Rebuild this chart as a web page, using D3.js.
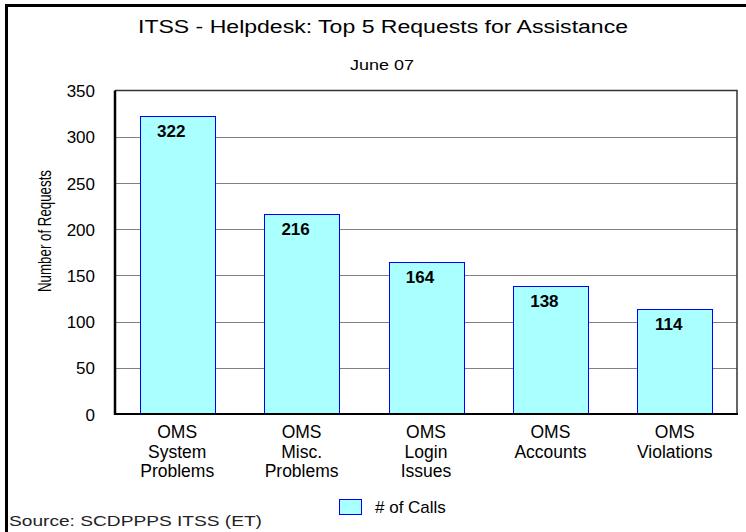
<!DOCTYPE html>
<html>
<head>
<meta charset="utf-8">
<script src="https://cdn.jsdelivr.net/npm/d3@7"></script>
<style>
html,body{margin:0;padding:0;background:#fff;}
svg{display:block;font-family:Arial,"Liberation Sans",sans-serif;}
</style>
</head>
<body>
<svg id="chart" width="746" height="532"></svg>
<script>
const categories = [["OMS","System","Problems"],["OMS","Misc.","Problems"],["OMS","Login","Issues"],["OMS","Accounts"],["OMS","Violations"]];
const calls = [322, 216, 164, 138, 114];
const yTicks = [0, 50, 100, 150, 200, 250, 300, 350];
const titleText = "ITSS - Helpdesk: Top 5 Requests for Assistance";
const subtitleText = "June 07";
const yTitle = "Number of Requests";
const seriesName = "# of Calls";
const sourceText = "Source: SCDPPPS ITSS (ET)";

const svg = d3.select("#chart");
const W = 746, H = 532;
const m = {left:115, right:737, top:90.5, bottom:414};

// outer frame (left and top edges)
svg.append("path").attr("d", `M6.5,${H} L6.5,5.5 L${W},5.5`).attr("fill","none").attr("stroke","#000").attr("stroke-width",3);

const x = d3.scaleBand().domain(d3.range(calls.length)).range([m.left, m.right]).paddingInner(0.4).paddingOuter(0.2);
const y = d3.scaleLinear().domain([0,350]).range([m.bottom, m.top]);

// gridlines
svg.append("g").selectAll("line").data(yTicks.filter(t=>t>0 && t<350)).join("line")
  .attr("x1", m.left).attr("x2", m.right)
  .attr("y1", d=>Math.round(y(d))+0.5).attr("y2", d=>Math.round(y(d))+0.5)
  .attr("stroke","#808080").attr("stroke-width",1);

// plot frame top & right
svg.append("path").attr("d", `M${m.left},${m.top} L${m.right},${m.top} L${m.right},${m.bottom}`)
  .attr("fill","none").attr("stroke","#333").attr("stroke-width",1.5);

// bars
svg.append("g").selectAll("rect").data(calls).join("rect")
  .attr("x", (d,i)=>Math.round(x(i))+0.5)
  .attr("y", d=>Math.round(y(d))+0.5)
  .attr("width", Math.round(x.bandwidth()))
  .attr("height", d=>m.bottom - Math.round(y(d)) - 0.5)
  .attr("fill","#aaffff").attr("stroke","#0000ff").attr("stroke-width",1);

// value labels
svg.append("g").selectAll("text").data(calls).join("text")
  .attr("x", (d,i)=>x(i)+x.bandwidth()/2 - 6)
  .attr("y", d=>y(d)+21)
  .attr("text-anchor","middle").attr("font-weight","bold").attr("font-size",17)
  .text(d=>d);

// y axis
const yAxis = d3.axisLeft(y).tickValues(yTicks).tickSize(0).tickPadding(20);
const ga = svg.append("g").attr("transform",`translate(${m.left},0)`).call(yAxis);
ga.select(".domain").remove();
ga.selectAll("text").attr("font-size",17).attr("font-family","Arial, 'Liberation Sans', sans-serif").attr("fill","#000").attr("dy","0.36em");

// axis lines
svg.append("line").attr("x1",m.left).attr("x2",m.left).attr("y1",m.top).attr("y2",m.bottom+1).attr("stroke","#000").attr("stroke-width",2.5);
svg.append("line").attr("x1",m.left).attr("x2",m.right+1).attr("y1",m.bottom).attr("y2",m.bottom).attr("stroke","#000").attr("stroke-width",2);

// x labels
const xl = svg.append("g").selectAll("text").data(categories).join("text")
  .attr("x",(d,i)=>x(i)+x.bandwidth()/2)
  .attr("y",438).attr("text-anchor","middle").attr("font-size",17.5);
xl.selectAll("tspan").data(d=>d).join("tspan")
  .attr("x", function(){return this.parentNode.getAttribute("x");})
  .attr("dy",(d,i)=>i===0?0:19.5).text(d=>d);

// titles
svg.append("text").attr("x",383).attr("y",33).attr("text-anchor","middle").attr("font-size",18)
  .attr("textLength",490).attr("lengthAdjust","spacingAndGlyphs").text(titleText);
svg.append("text").attr("x",382).attr("y",70).attr("text-anchor","middle").attr("font-size",15)
  .attr("textLength",64).attr("lengthAdjust","spacingAndGlyphs").text(subtitleText);

// y title
svg.append("text").attr("transform","translate(51,231) rotate(-90)").attr("text-anchor","middle")
  .attr("font-size",18.5).attr("textLength",122).attr("lengthAdjust","spacingAndGlyphs").text(yTitle);

// legend
svg.append("rect").attr("x",339.5).attr("y",499.5).attr("width",22).attr("height",15)
  .attr("fill","#aaffff").attr("stroke","#0000ff").attr("stroke-width",1);
svg.append("text").attr("x",375).attr("y",513).attr("font-size",17).text(seriesName);

// source
svg.append("text").attr("x",9).attr("y",526).attr("font-size",15).attr("fill","#222")
  .attr("textLength",253).attr("lengthAdjust","spacingAndGlyphs").text(sourceText);
</script>
</body>
</html>
